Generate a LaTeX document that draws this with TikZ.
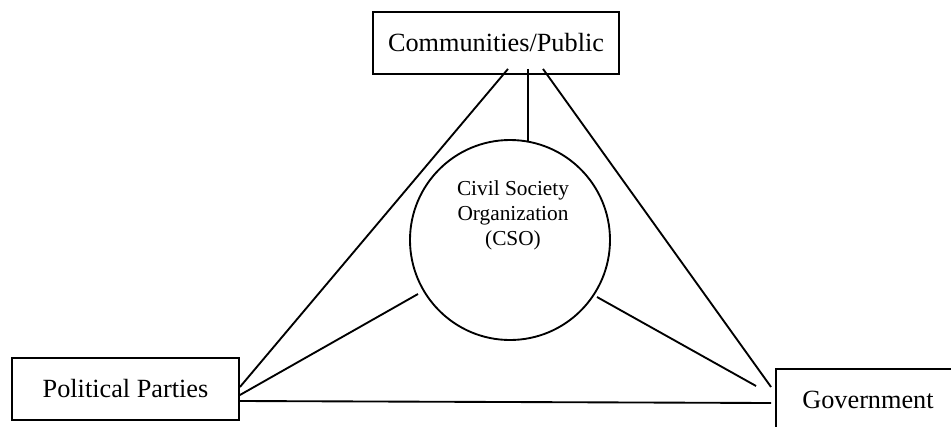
\documentclass[tikz,border=0pt]{standalone}
\usepackage{fontspec}
\setmainfont{Liberation Serif}
\usetikzlibrary{calc}
\begin{document}
\begin{tikzpicture}[x=0.75pt,y=-0.75pt,
  link/.style={line width=1.4pt},
  actor/.style={draw,line width=1.4pt,rectangle,minimum height=46.5pt,inner sep=0pt,
    font=\fontsize{19.7}{23}\selectfont},
  hub/.style={draw,line width=1.4pt,circle,minimum size=150pt,inner sep=0pt},
  hubtext/.style={align=center,inner sep=0pt,font=\fontsize{16}{18.75}\selectfont}]
\useasboundingbox (0,0) rectangle (951,426);
\clip (0,0) rectangle (951,426);

% stakeholders
\node[actor,minimum width=184.5pt] (comm) at (496,43) {Communities/Public};
\node[actor,minimum width=170.25pt] (pp) at (125.5,389) {Political Parties};
\node[actor,minimum width=138pt] (gov) at (868,400) {Government};

% civil society in the middle
\node[hub] (cso) at (510,240) {};
\node[hubtext] (csolabel) at (513,215) {Civil Society\\Organization\\(CSO)};

% relations
\draw[link] ($(comm.south)+(12,-6)$) -- ($(pp.east)+(0,-2)$);
\draw[link] ($(comm.south)+(32,-6)$) -- ($(cso.center)+(18,-98)$);
\draw[link] ($(comm.south)+(47,-6)$) -- ($(gov.west)+(-4,-13)$);
\draw[link] ($(pp.east)+(0,6)$) -- ($(cso.center)+(-92,54)$);
\draw[link] ($(cso.center)+(87,57)$) -- ($(gov.west)+(-19,-14)$);
\draw[link] ($(pp.east)+(0,12)$) -- ($(gov.west)+(-4,3)$);
\end{tikzpicture}
\end{document}
